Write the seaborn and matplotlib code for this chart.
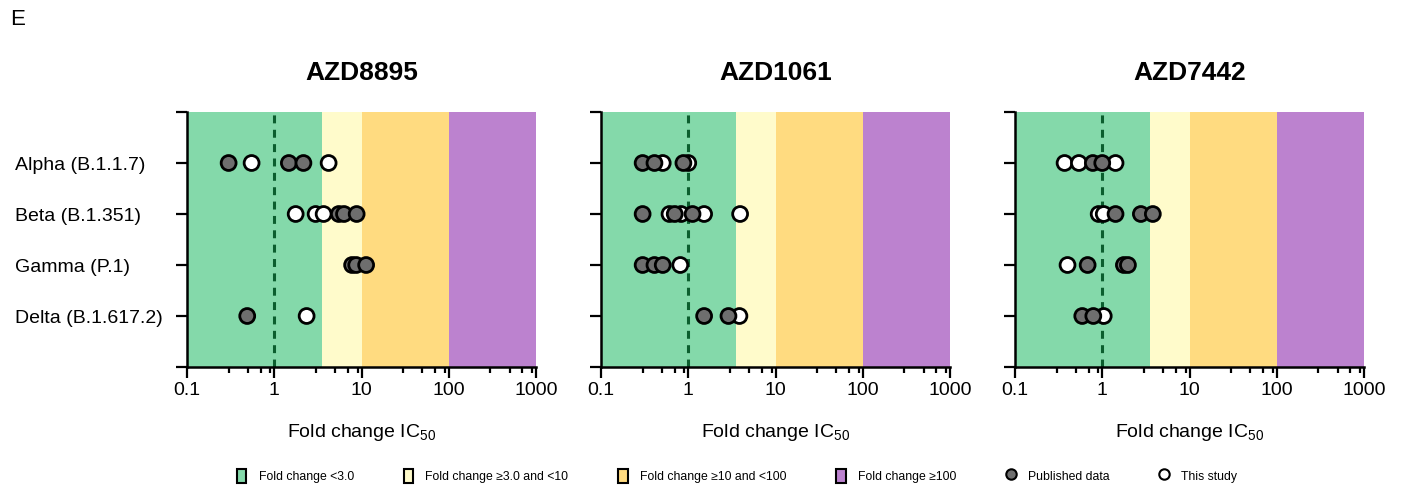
import numpy as np
import pandas as pd
import matplotlib
matplotlib.use('Agg')
import matplotlib.pyplot as plt
import seaborn as sns
from matplotlib.patches import Patch
from matplotlib.lines import Line2D
from matplotlib.ticker import LogLocator, FixedFormatter, FixedLocator, NullFormatter

# data
variants = ['Alpha (B.1.1.7)', 'Beta (B.1.351)', 'Gamma (P.1)', 'Delta (B.1.617.2)']
antibodies = ['AZD8895', 'AZD1061', 'AZD7442']

# fold change per variant (Alpha, Beta, Gamma, Delta)
azd8895_published = [[0.30, 1.47, 2.16], [5.5, 6.3, 8.8], [7.8, 8.7, 11.3], [0.49]]
azd8895_study = [[0.55, 4.2], [1.76, 2.98, 3.68], [], [2.35]]

azd1061_published = [[0.30, 0.41, 0.88], [0.30, 0.70, 1.12], [0.30, 0.41, 0.51], [1.52, 2.89]]
azd1061_study = [[0.51, 1.0], [0.61, 0.83, 1.52, 3.93], [0.81], [3.86]]

azd7442_published = [[0.78, 1.0], [1.42, 2.77, 3.8], [0.68, 1.77, 1.97], [0.59, 0.79]]
azd7442_study = [[0.37, 0.54, 1.42], [0.91, 1.04], [0.40], [1.04]]

band_edges = [0.1, 3.5, 10, 100, 1000]
band_colors = ['#84D9AA', '#FFFBCB', '#FFDB80', '#BC82CF']
band_labels = ['Fold change <3.0', 'Fold change \u22653.0 and <10',
               'Fold change \u226510 and <100', 'Fold change \u2265100']
source_colors = {'This study': 'white', 'Published data': '#6E6E6E'}

sns.set_style('ticks')
plt.rcParams['font.family'] = ['Liberation Sans', 'DejaVu Sans']
plt.rcParams['mathtext.default'] = 'regular'
for key in ['text.color', 'axes.labelcolor', 'xtick.color', 'ytick.color']:
    plt.rcParams[key] = 'black'


def make_df(published, study):
    rows = []
    for i, v in enumerate(variants):
        for x in study[i]:
            rows.append({'variant': v, 'pos': i + 1, 'fold': x, 'source': 'This study'})
    for i, v in enumerate(variants):
        for x in published[i]:
            rows.append({'variant': v, 'pos': i + 1, 'fold': x, 'source': 'Published data'})
    return pd.DataFrame(rows)


data = {
    'AZD8895': make_df(azd8895_published, azd8895_study),
    'AZD1061': make_df(azd1061_published, azd1061_study),
    'AZD7442': make_df(azd7442_published, azd7442_study),
}

fig = plt.figure(figsize=(14.03, 4.9), dpi=100)
lefts = [187, 601, 1015]
W, H = 1403, 490

for k, name in enumerate(antibodies):
    ax = fig.add_axes([lefts[k] / W, 1 - 367 / H, 349 / W, 255 / H])
    for j in range(4):
        ax.axvspan(band_edges[j], band_edges[j + 1], color=band_colors[j], lw=0, zorder=0)
    ax.axvline(1, color='#0B5E2E', lw=2.2, ls=(0, (2.6, 2.1)), zorder=1)
    sns.scatterplot(data=data[name], x='fold', y='pos', hue='source', palette=source_colors,
                    s=115, edgecolor='black', linewidth=2.0, legend=False, ax=ax, zorder=3)
    ax.set_xscale('log')
    ax.set_xlim(0.1, 1000)
    ax.set_ylim(5, 0)
    ax.xaxis.set_major_locator(FixedLocator([0.1, 1, 10, 100, 1000]))
    ax.xaxis.set_major_formatter(FixedFormatter(['0.1', '1', '10', '100', '1000']))
    ax.xaxis.set_minor_locator(LogLocator(base=10, subs=(3, 5, 7, 9)))
    ax.xaxis.set_minor_formatter(NullFormatter())
    ax.set_yticks([0, 1, 2, 3, 4, 5])
    if k == 0:
        ax.set_yticklabels([''] + variants + [''], fontsize=14, ha='left')
        ax.tick_params(axis='y', pad=116)
    else:
        ax.set_yticklabels([])
    ax.tick_params(axis='x', labelsize=14, pad=3)
    ax.tick_params(which='major', length=8, width=1.6, color='black')
    ax.tick_params(which='minor', length=4.5, width=1.6, color='black')
    for s in ['top', 'right']:
        ax.spines[s].set_visible(False)
    for s in ['left', 'bottom']:
        ax.spines[s].set_linewidth(1.8)
        ax.spines[s].set_color('black')
    ax.set_xlabel('Fold change IC$_{50}$', fontsize=14, labelpad=16)
    ax.set_ylabel('')
    ax.set_title(name, fontsize=19, fontweight='bold', pad=23)

fig.text(10 / W, 1 - 9 / H, 'E', fontsize=16, va='top', ha='left')

handles = [Patch(facecolor=c, edgecolor='black', lw=1.5) for c in band_colors]
handles += [Line2D([], [], marker='o', ls='', markerfacecolor='#6E6E6E', markeredgecolor='black',
                   markeredgewidth=1.5, markersize=7.5),
            Line2D([], [], marker='o', ls='', markerfacecolor='white', markeredgecolor='black',
                   markeredgewidth=1.5, markersize=7.5)]
labels = band_labels + ['Published data', 'This study']
fig.legend(handles, labels, loc='center', bbox_to_anchor=(737 / W, 1 - 476 / H), ncol=6,
           frameon=False, fontsize=8.8, handlelength=0.75, handleheight=1.5,
           columnspacing=4.1, handletextpad=1.0)

fig.savefig('out.png', dpi=100)
